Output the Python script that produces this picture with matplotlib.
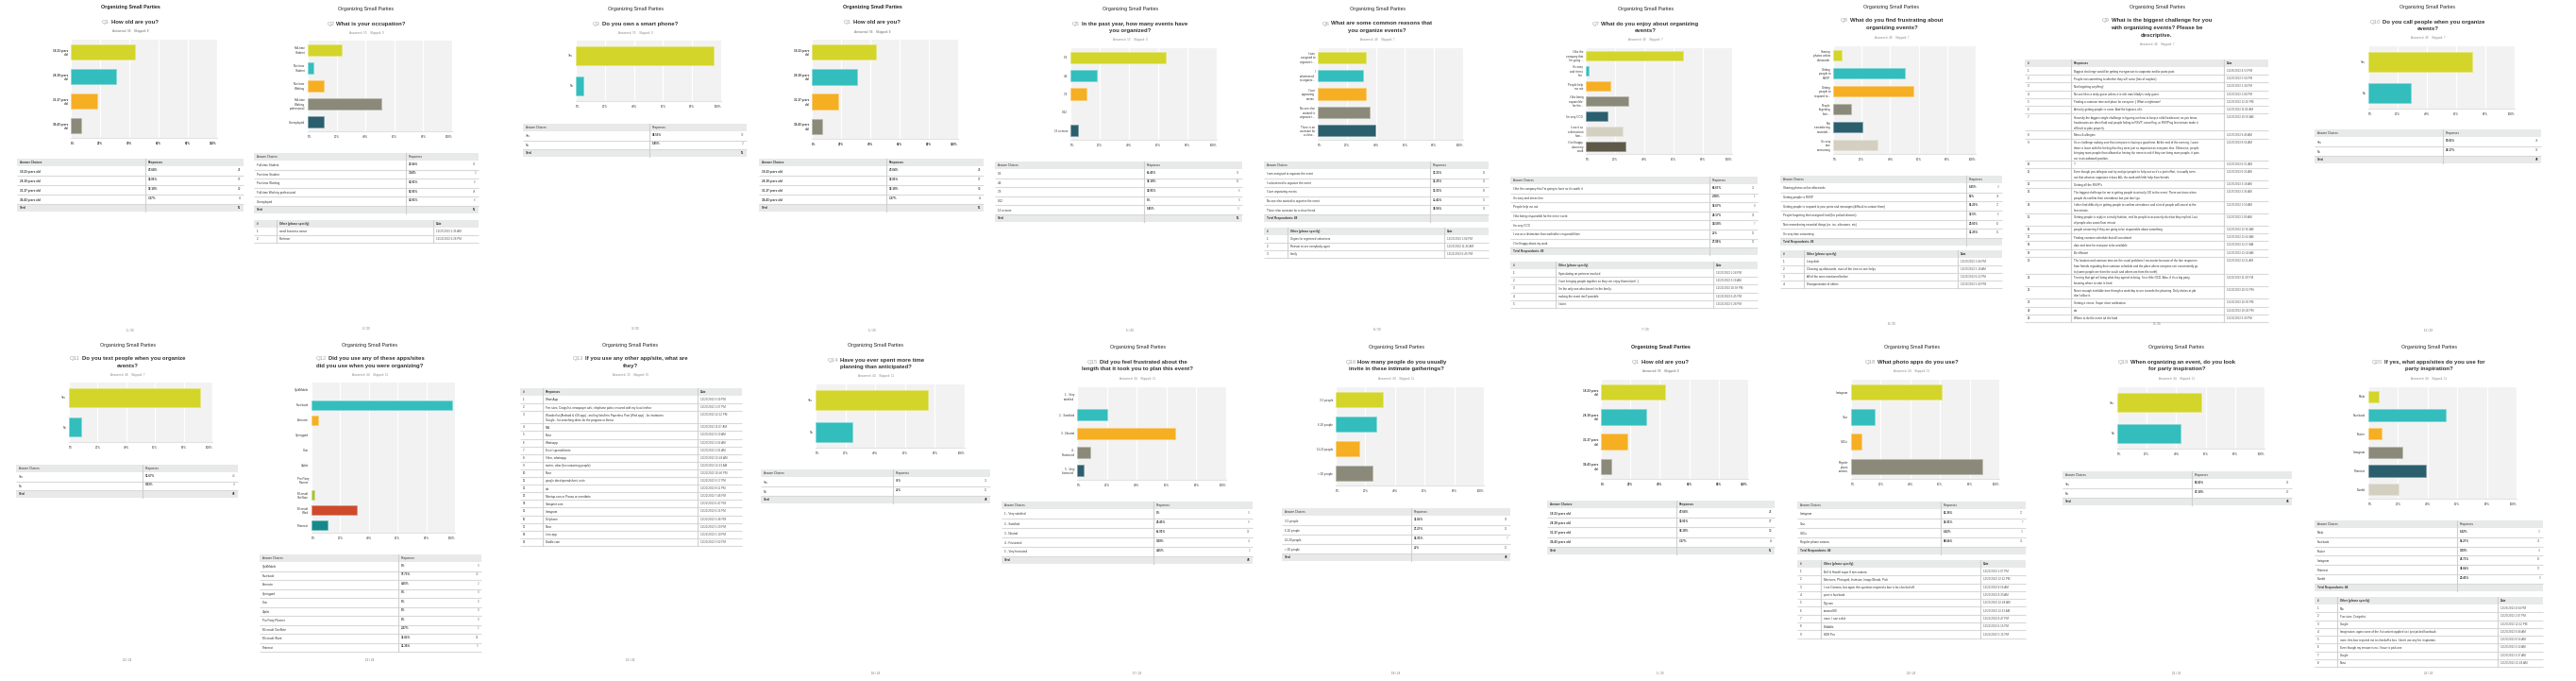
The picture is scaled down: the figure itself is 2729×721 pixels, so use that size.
import numpy as np
import matplotlib
matplotlib.use("Agg")
import matplotlib.pyplot as plt
from matplotlib.patches import Rectangle
from matplotlib.colors import to_rgb

plt.rcParams['font.family'] = ['Liberation Sans', 'DejaVu Sans']

W, H = 2729, 721

# ---------------- survey data ----------------
palette = ['#d3d52a', '#33bdbd', '#f6ae22', '#8b8a7a', '#2b5f6e', '#d3d0c2', '#5e5949']
q12_palette = palette + ['#a7c23b', '#cd4a2a', '#158a8b']

q1_title = ['How old are you?']
q1_bars = ['18-23 years\nold', '24-30 years\nold', '31-37 years\nold', '38-43 years\nold']
q1_choices = ['18-23 years old', '24-30 years old', '31-37 years old', '38-43 years old']
q1_pct = [43.64, 30.91, 18.18, 7.27]
q1_n = [24, 17, 10, 4]

q2_title = ['What is your occupation?']
q2_bars = ['Full-time\nStudent', 'Part-time\nStudent', 'Part-time\nWorking',
           'Full-time\nWorking\nprofessional', 'Unemployed']
q2_choices = ['Full-time Student', 'Part-time Student', 'Part-time Working',
              'Full-time Working professional', 'Unemployed']
q2_pct = [23.64, 3.64, 10.91, 50.91, 10.91]
q2_n = [13, 2, 6, 28, 6]
q2_other = [('1', 'small business owner', '12/23/2013 1:36 AM'),
            ('2', 'Parttimer', '12/22/2013 9:28 PM')]

q3_title = ['Do you own a smart phone?']
yes_no = ['Yes', 'No']
q3_pct = [94.55, 5.45]
q3_n = [52, 3]

q5_title = ['In the past year, how many events have', 'you organized?']
q5_bars = ['0-3', '4-6', '7-9', '9-12', '13 or more']
q5_pct = [65.45, 18.18, 10.91, 0, 5.45]
q5_n = [36, 10, 6, 0, 3]

q6_title = ['What are some common reasons that', 'you organize events?']
q6_bars = ['I was\nassigned to\norganize t...', 'I\nvolunteered\nto organiz...',
           'I love\norganizing\nevents', 'No one else\nwanted to\norganize t...',
           'There is an\noccasion for\na close...']
q6_choices = ['I was assigned to organize the event', 'I volunteered to organize the event',
              'I love organizing events', 'No one else wanted to organize the event',
              'There is/an occasion for a close friend']
q6_pct = [33.33, 31.25, 33.33, 35.42, 39.58]
q6_n = [16, 15, 16, 17, 19]
q6_other = [('1', 'Orgies for registered volunteers', '12/23/2013 1:04 PM'),
            ('2', 'Reason to see everybody again', '12/23/2013 11:36 AM'),
            ('3', 'family', '12/22/2013 6:45 PM')]

q7_title = ['What do you enjoy about organizing', 'events?']
q7_bars = ["I like the\ncompany that\nI'm going ...", "It's easy\nand stress\nfree",
           'People help\nme out', 'I like being\nresponsible\nfor the...', "I'm very OCD",
           'I use it as\na distraction\nfrom...', 'I feel happy\nabout my\nwork']
q7_choices = ["I like the company that I'm going to have so it's worth it",
              "It's easy and stress free", 'People help me out',
              'I like being responsible for the entire event', "I'm very OCD",
              'I use as a distraction from work/other responsibilities',
              'I feel happy about my work']
q7_pct = [66.67, 2.08, 16.67, 29.17, 14.58, 25, 27.08]
q7_n = [32, 1, 8, 14, 7, 12, 13]
q7_other = [('1', 'Speculating on partners involved', '12/23/2013 1:24 PM'),
            ('2', 'I love bringing people together so they can enjoy themselves! :)', '12/23/2013 3:19 AM'),
            ('3', "I'm the only one who doesn't in the family.", '12/22/2013 10:38 PM'),
            ('4', 'making the event itself possible', '12/22/2013 6:45 PM'),
            ('5', "I don't", '12/22/2013 5:28 PM')]

q8_title = ['What do you find frustrating about', 'organizing events?']
q8_bars = ['Sharing\nphotos online\nafterwards', 'Getting\npeople to\nRSVP',
           'Getting\npeople to\nrespond to...', 'People\nforgetting\ntheir...',
           'Not\nremembering\nessential...', "It's very\ntime\nconsuming"]
q8_choices = ['Sharing photos online afterwards', 'Getting people to RSVP',
              'Getting people to respond to your posts and messages (difficult to contact them)',
              'People forgetting their assigned food (for potluck dinners)',
              'Not remembering essential things (ex. ice, silverware, etc)',
              "It's very time consuming"]
q8_pct = [6.25, 50, 56.25, 12.5, 20.83, 31.25]
q8_n = [3, 24, 27, 6, 10, 15]
q8_other = [('1', 'Limp dish', '12/23/2013 1:04 PM'),
            ('2', 'Cleaning up afterwards, most of the time no one helps', '12/23/2013 5:18 AM'),
            ('3', 'All of the ones mentioned before', '12/22/2013 6:12 PM'),
            ('4', 'Disorganization of others', '12/22/2013 5:43 PM')]

q9_title = ['What is the biggest challenge for you', 'with organizing events? Please be', 'descriptive.']
q9_responses = [
    "Biggest challenge would be getting everyperson to cooperate and/or participate.",
    "People not committing to whether they will come (lots of maybes)",
    "Not forgetting anything!",
    "No one likes a tardy guest unless it is rich man's/lady's tardy guest",
    "Finding a common time and place for everyone :( What a nightmare!",
    "Actually getting people to come. And the logistics of it.",
    "Honestly the biggest single challenge is figuring out how to keep a solid headcount; as you know,\n"
    "headcounts are often fluid and people failing to RSVP, cancelling, or RSVPing last minute make it\n"
    "difficult to plan properly.",
    "Menu & allergies",
    "It's a challenge making sure that everyone is having a good time. At the end of the evening, I want\n"
    "them to leave with the feeling that they were just as important as everyone else. Otherwise, people\n"
    "bringing more people than allowed or having the nerve to ask if they can bring more people, it puts\n"
    "me in an awkward position.",
    "?",
    "Even though you delegate and try and get people to help out so it's a joint effort, it usually turns\n"
    "out that whoever organizes it does ALL the work with little help from friends",
    "Getting all the RSVP's",
    "The biggest challenge for me is getting people to actually GO to the event. There are times when\n"
    "people do confirm their attendance but just don't go.",
    "I often find difficulty in getting people to confirm attendance and a lot of people will cancel at the\n"
    "last minute.",
    "Getting people to reply in a timely fashion, and for people to accurately do what they replied. Lots\n"
    "of people also cancel last minute",
    "people answering if they are going to be responsible about something",
    "Finding common schedule that all can attend",
    "date and time for everyone to be available",
    "Be efficient",
    "The location and common time are the usual problems I encounter because of the late responses\n"
    "from friends regarding their common schedule and the place where everyone can conveniently go\n"
    "to (some people are from the south and others are from the north).",
    "Trusting that ppl will bring what they agreed to bring. I'm a little OCD. Also, if it's a big party,\n"
    "knowing where to start is hard.",
    "Never enough available time through a work day to use towards the planning. Daily duties at job\n"
    "don't allow it.",
    "Getting a venue. Super short notification.",
    "n/a",
    "Where to do the event nd the food",
]
q9_dates = ['12/26/2013 4:53 PM', '12/23/2013 5:56 PM', '12/23/2013 1:34 PM', '12/23/2013 1:04 PM',
            '12/23/2013 12:10 PM', '12/23/2013 11:06 AM', '12/23/2013 10:50 AM', '12/23/2013 9:49 AM',
            '12/23/2013 8:56 AM', '12/23/2013 6:55 AM', '12/23/2013 6:16 AM', '12/23/2013 3:18 AM',
            '12/23/2013 2:36 AM', '12/23/2013 1:59 AM', '12/23/2013 1:09 AM', '12/23/2013 12:56 AM',
            '12/23/2013 12:42 AM', '12/23/2013 12:27 AM', '12/23/2013 12:24 AM', '12/23/2013 12:11 AM',
            '12/22/2013 11:30 PM', '12/22/2013 10:51 PM', '12/22/2013 10:38 PM', '12/22/2013 10:04 PM',
            '12/22/2013 9:30 PM']

q10_title = ['Do you call people when you organize', 'events?']
q10_pct = [70.83, 29.17]
q10_n = [34, 14]

q11_title = ['Do you text people when you organize', 'events?']
q11_pct = [91.67, 8.33]
q11_n = [44, 4]

q12_title = ['Did you use any of these apps/sites', 'did you use when you were organizing?']
q12_bars = ['QuikMobile', 'Facebook', 'Evernote', 'Springpad', 'Cozi', 'Zipilst',
            'Pro Party\nPlanner', 'Microsoft\nOneNote', 'Microsoft\nWord', 'Pinterest']
q12_choices = ['QuikMobile', 'Facebook', 'Evernote', 'Springpad', 'Cozi', 'Zipilst',
               'Pro Party Planner', 'Microsoft OneNote', 'Microsoft Word', 'Pinterest']
q12_pct = [0, 97.73, 4.55, 0, 0, 0, 0, 2.27, 31.82, 11.36]
q12_n = [0, 43, 2, 0, 0, 0, 0, 1, 14, 5]

q13_title = ['If you use any other app/site, what are', 'they?']
q13_responses = ['WhatsApp',
                 'Fan sites, Craigslist, newspaper ads, telephone poles ensured with my local realtor',
                 'Wunderlist (Android & iOS app) - mailing lists/lists Paperless Post (iPad app) - for invitations\n'
                 'Google - for searching ideas for the program or theme',
                 'N/A', 'None', 'Whatsapp', 'Excel spreadsheets', 'Viber, whatsapp',
                 'twitter, viber (for contacting people)', 'None', 'google docs/spreadsheet, evite',
                 'n/a', 'Meetup.com or Picasa or eventbrite', 'Vistaprint.com', 'Instagram',
                 'Cellphone', 'None', 'Line app', 'Doodle.com']
q13_dates = ['12/23/2013 3:39 PM', '12/23/2013 1:07 PM', '12/23/2013 12:12 PM', '12/23/2013 11:07 AM',
             '12/23/2013 9:19 AM', '12/23/2013 2:02 AM', '12/23/2013 2:01 AM', '12/23/2013 12:44 AM',
             '12/23/2013 12:13 AM', '12/22/2013 10:40 PM', '12/22/2013 9:17 PM', '12/22/2013 8:11 PM',
             '12/22/2013 7:46 PM', '12/22/2013 6:47 PM', '12/22/2013 6:16 PM', '12/22/2013 5:46 PM',
             '12/22/2013 5:29 PM', '12/22/2013 5:10 PM', '12/22/2013 5:02 PM']

q14_title = ['Have you ever spent more time', 'planning than anticipated?']
q14_pct = [75, 25]
q14_n = [33, 11]

q15_title = ['Did you feel frustrated about the', 'length that it took you to plan this event?']
q15_bars = ['1 - Very\nsatisfied', '2 - Satisfied', '3 - Neutral', '4 -\nFrustrated', '5 - Very\nfrustrated']
q15_choices = ['1 - Very satisfied', '2 - Satisfied', '3 - Neutral', '4 - Frustrated', '5 - Very frustrated']
q15_pct = [0, 20.45, 65.91, 9.09, 4.55]
q15_n = [0, 9, 29, 4, 2]

q16_title = ['How many people do you usually', 'invite in these intimate gatherings?']
q16_bars = ['3-5 people', '6-10 people', '11-20 people', '> 20 people']
q16_choices = ['3-5 people', '6-10 people', '10-20 people', '> 20 people']
q16_pct = [31.82, 27.27, 15.91, 25]
q16_n = [14, 12, 7, 11]

q18_title = ['What photo apps do you use?']
q18_bars = ['Instagram', 'Vine', 'VSCo', 'Regular\nphone\ncamera']
q18_choices = ['Instagram', 'Vine', 'VSCo', 'Regular phone camera']
q18_pct = [61.36, 15.91, 6.82, 88.64]
q18_n = [27, 7, 3, 39]
q18_other = [('1', 'Bell & Howell super 8 mm camera', '12/23/2013 1:07 PM'),
             ('2', 'Mextures, Photogrid, Instasize, Image Blendr, Pixlr', '12/23/2013 12:12 PM'),
             ('3', 'I use Camera+ but again this question required a box to be checked off.', '12/23/2013 8:56 AM'),
             ('4', 'post to facebook', '12/23/2013 8:30 AM'),
             ('5', 'Digicam', '12/23/2013 12:44 AM'),
             ('6', 'camera360', '12/23/2013 12:13 AM'),
             ('7', 'none. I use a dslr', '12/22/2013 8:47 PM'),
             ('8', 'Dribbble', '12/22/2013 6:15 PM'),
             ('9', 'HDR Pro', '12/22/2013 5:15 PM')]

q19_title = ['When organizing an event, do you look', 'for party inspiration?']
q19_pct = [56.82, 43.18]
q19_n = [25, 19]

q20_title = ['If yes, what apps/sites do you use for', 'party inspiration?']
q20_bars = ['Flickr', 'Facebook', 'Twitter', 'Instagram', 'Pinterest', 'Tumblr']
q20_pct = [6.82, 52.27, 9.09, 22.73, 38.64, 20.45]
q20_n = [3, 23, 4, 10, 17, 9]
q20_other = [('1', 'N/a', '12/26/2013 4:04 PM'),
             ('2', 'Fun sites, Craigslist.', '12/23/2013 1:07 PM'),
             ('3', 'Google', '12/23/2013 12:12 PM'),
             ('4', 'Imagination. again none of the list content applied so i just picked facebook', '12/23/2013 9:04 AM'),
             ('5', "none. this box required me to checkoff a box. I don't use any for inspiration.", '12/23/2013 8:56 AM'),
             ('6', 'Even though my answer is no, I have to pick one', '12/23/2013 3:19 AM'),
             ('7', 'Google', '12/23/2013 3:37 AM'),
             ('8', 'None', '12/23/2013 12:44 AM')]

answered = {1: (55, 0), 2: (55, 0), 3: (55, 0), 5: (55, 0), 6: (48, 7), 7: (48, 7), 8: (48, 7),
            9: (48, 7), 10: (48, 7), 11: (48, 7), 12: (44, 11), 13: (19, 36), 14: (44, 11),
            15: (44, 11), 16: (44, 11), 18: (44, 11), 19: (44, 11), 20: (44, 11)}

OTHER = 'Other (please specify)'
survey = {
    1: dict(title=q1_title, bars=q1_bars, choices=q1_choices, pct=q1_pct, n=q1_n, total=sum(q1_n)),
    2: dict(title=q2_title, bars=q2_bars, choices=q2_choices, pct=q2_pct, n=q2_n, total=sum(q2_n),
            other=(OTHER, q2_other)),
    3: dict(title=q3_title, bars=yes_no, choices=yes_no, pct=q3_pct, n=q3_n, total=sum(q3_n)),
    5: dict(title=q5_title, bars=q5_bars, choices=q5_bars, pct=q5_pct, n=q5_n, total=sum(q5_n)),
    6: dict(title=q6_title, bars=q6_bars, choices=q6_choices, pct=q6_pct, n=q6_n,
            total='Total Respondents: 48', other=(OTHER, q6_other)),
    7: dict(title=q7_title, bars=q7_bars, choices=q7_choices, pct=q7_pct, n=q7_n,
            total='Total Respondents: 48', other=(OTHER, q7_other)),
    8: dict(title=q8_title, bars=q8_bars, choices=q8_choices, pct=q8_pct, n=q8_n,
            total='Total Respondents: 48', other=(OTHER, q8_other)),
    9: dict(title=q9_title, other=('Responses', [(str(i + 1), r, d) for i, (r, d)
                                                 in enumerate(zip(q9_responses, q9_dates))])),
    10: dict(title=q10_title, bars=yes_no, choices=yes_no, pct=q10_pct, n=q10_n, total=sum(q10_n)),
    11: dict(title=q11_title, bars=yes_no, choices=yes_no, pct=q11_pct, n=q11_n, total=sum(q11_n)),
    12: dict(title=q12_title, bars=q12_bars, choices=q12_choices, pct=q12_pct, n=q12_n, total=None,
             colors=q12_palette),
    13: dict(title=q13_title, other=('Responses', [(str(i + 1), r, d) for i, (r, d)
                                                  in enumerate(zip(q13_responses, q13_dates))])),
    14: dict(title=q14_title, bars=yes_no, choices=yes_no, pct=q14_pct, n=q14_n, total=sum(q14_n)),
    15: dict(title=q15_title, bars=q15_bars, choices=q15_choices, pct=q15_pct, n=q15_n, total=sum(q15_n)),
    16: dict(title=q16_title, bars=q16_bars, choices=q16_choices, pct=q16_pct, n=q16_n, total=sum(q16_n)),
    18: dict(title=q18_title, bars=q18_bars, choices=q18_choices, pct=q18_pct, n=q18_n,
             total='Total Respondents: 44', other=(OTHER, q18_other)),
    19: dict(title=q19_title, bars=yes_no, choices=yes_no, pct=q19_pct, n=q19_n, total=sum(q19_n)),
    20: dict(title=q20_title, bars=q20_bars, choices=q20_bars, pct=q20_pct, n=q20_n,
             total='Total Respondents: 44', other=(OTHER, q20_other)),
}

# page layout (pixels): header, chart box, answer table, other table, footer
pages = [
    dict(q=1, cx=138, ty=8, qy=23, ay=33, bold=True, chart=(75, 230, 42, 146),
         tab=(18, 258, 154, 168, 10.0), foot=(350, '1 / 23')),
    dict(q=2, cx=388, ty=10, qy=25, ay=35, chart=(326, 479, 43, 139),
         tab=(269, 507, 430, 162, 9.6), oth=((269, 293, 459), 507, 233, 8.0), foot=(348, '2 / 23')),
    dict(q=3, cx=673, ty=10, qy=25, ay=35, chart=(610, 764, 43, 107),
         tab=(554, 791, 688, 131, 9.5), foot=(348, '3 / 23')),
    dict(q=1, cx=924, ty=8, qy=24, ay=34, bold=True, chart=(860, 1015, 42, 147),
         tab=(804, 1042, 939, 168, 10.0), foot=(350, '1 / 23')),
    dict(q=5, cx=1197, ty=10, qy=25, ay=42, chart=(1134, 1289, 51, 148),
         tab=(1054, 1316, 1212, 171, 9.6), foot=(350, '5 / 23')),
    dict(q=6, cx=1459, ty=10, qy=25, ay=42, chart=(1396, 1550, 51, 148),
         tab=(1339, 1577, 1515, 171, 9.6), oth=((1339, 1364, 1530), 1577, 241, 8.0), foot=(349, '6 / 23')),
    dict(q=7, cx=1743, ty=10, qy=25, ay=42, chart=(1680, 1835, 51, 163),
         tab=(1600, 1862, 1811, 187, 9.6), oth=((1600, 1648, 1815), 1862, 277, 8.2), foot=(349, '7 / 23')),
    dict(q=8, cx=2004, ty=8, qy=22, ay=40, chart=(1942, 2093, 49, 163),
         tab=(1886, 2121, 2083, 186, 9.7), oth=((1886, 1911, 2074), 2121, 265, 8.0), foot=(343, '8 / 23')),
    dict(q=9, cx=2285, ty=8, qy=22, ay=47,
         oth=((2145, 2194, 2356), 2403, 63, 8.2), foot=(343, '9 / 23')),
    dict(q=10, cx=2572, ty=8, qy=23, ay=40, chart=(2509, 2664, 49, 115),
         tab=(2452, 2692, 2588, 137, 10.0), foot=(350, '11 / 23')),
    dict(q=11, cx=135, ty=365, qy=380, ay=397, chart=(73, 225, 405, 468),
         tab=(17, 252, 151, 492, 9.5), foot=(699, '12 / 23')),
    dict(q=12, cx=392, ty=365, qy=380, ay=397, chart=(330, 482, 405, 564),
         tab=(275, 510, 422, 587, 9.5), foot=(699, '13 / 23')),
    dict(q=13, cx=668, ty=365, qy=380, ay=397,
         oth=((551, 575, 739), 786, 411, 8.1), foot=(699, '15 / 23')),
    dict(q=14, cx=928, ty=365, qy=381, ay=398, chart=(864, 1022, 407, 474),
         tab=(806, 1049, 946, 497, 10.0), foot=(713, '16 / 23')),
    dict(q=15, cx=1205, ty=368, qy=383, ay=401, chart=(1141, 1299, 410, 508),
         tab=(1061, 1327, 1222, 531, 10.0), foot=(713, '17 / 23')),
    dict(q=16, cx=1479, ty=368, qy=383, ay=401, chart=(1415, 1572, 410, 514),
         tab=(1358, 1600, 1495, 538, 10.0), foot=(713, '18 / 23')),
    dict(q=1, cx=1759, ty=368, qy=383, ay=393, bold=True, chart=(1696, 1852, 402, 507),
         tab=(1639, 1880, 1776, 530, 10.2), foot=(713, '1 / 23')),
    dict(q=18, cx=2025, ty=368, qy=383, ay=393, chart=(1961, 2118, 402, 507),
         tab=(1904, 2146, 2056, 531, 10.0), oth=((1904, 1929, 2098), 2146, 593, 8.3), foot=(713, '20 / 23')),
    dict(q=19, cx=2306, ty=368, qy=383, ay=401, chart=(2243, 2399, 410, 475),
         tab=(2185, 2428, 2322, 499, 10.0), foot=(713, '21 / 23')),
    dict(q=20, cx=2573, ty=368, qy=383, ay=401, chart=(2509, 2666, 410, 528),
         tab=(2452, 2694, 2603, 551, 9.8), oth=((2452, 2476, 2646), 2694, 632, 8.25), foot=(713, '22 / 23')),
]

FS_T, FS_Q, FS_S = 3.8, 4.3, 2.2
DARK, QGREY, LINE, HEAD = '#333333', '#a8a8a8', '#d9d9d9', '#e8e9e9'

fig = plt.figure(figsize=(W / 100, H / 100), dpi=100)
fig.patch.set_facecolor('white')
bg = fig.add_axes([0, 0, 1, 1])
bg.set_xlim(0, W)
bg.set_ylim(H, 0)
bg.axis('off')
rend = fig.canvas.get_renderer()


def fmt_pct(p):
    s = f'{p:.2f}'.rstrip('0').rstrip('.')
    return s + '%'


def text_width(s, size, weight):
    t = bg.text(0, 0, s, fontsize=size, fontweight=weight)
    w = t.get_window_extent(rend).width
    t.remove()
    return w


def page_head(p, d):
    fw = 'bold' if p.get('bold') else 'normal'
    cx = p['cx']
    bg.text(cx, p['ty'], 'Organizing Small Parties', ha='center', va='center',
            fontsize=FS_T, color='#222222', fontweight=fw)
    qnum = f"Q{p['q']}"
    for i, line in enumerate(d['title']):
        y = p['qy'] + i * 7.5
        if i == 0:
            wn = text_width(qnum, FS_Q, 'normal') + 1.8
            wl = text_width(line, FS_Q, 'bold')
            x0 = cx - (wn + wl) / 2
            bg.text(x0, y, qnum, ha='left', va='center', fontsize=FS_Q, color=QGREY)
            bg.text(x0 + wn, y, line, ha='left', va='center', fontsize=FS_Q,
                    color=DARK, fontweight='bold')
        else:
            bg.text(cx, y, line, ha='center', va='center', fontsize=FS_Q,
                    color=DARK, fontweight='bold')
    a, s = answered[p['q']]
    bg.text(cx, p['ay'], f'Answered: {a}    Skipped: {s}', ha='center', va='center',
            fontsize=FS_S, color='#8c8c8c', fontweight=fw)


def bar_chart(box, labels, pcts, colors, bold):
    x0, x1, y0, y1 = box
    ax = fig.add_axes([x0 / W, 1 - y1 / H, (x1 - x0) / W, (y1 - y0) / H])
    ax.set_facecolor('#f2f2f2')
    n = len(pcts)
    cols = colors[:n]
    edges = [tuple(0.6 * c + 0.4 for c in to_rgb(col)) for col in cols]
    lws = [0.5 if v > 0 else 0 for v in pcts]
    ax.barh(np.arange(n), pcts, height=0.62, color=cols, edgecolor=edges, linewidth=lws, zorder=3)
    ax.set_xlim(0, 100)
    ax.set_ylim(n - 0.5, -0.5)
    ticks = list(range(0, 101, 20))
    ax.set_xticks(ticks)
    ax.set_xticklabels([f'{t}%' for t in ticks])
    ax.set_yticks(np.arange(n))
    ax.set_yticklabels(labels)
    ax.grid(axis='x', color='white', lw=0.9, zorder=0)
    ax.grid(axis='y', visible=False)
    for s in ax.spines.values():
        s.set_visible(False)
    ax.spines['bottom'].set_visible(True)
    ax.spines['bottom'].set_color('#e2e2e2')
    ax.spines['bottom'].set_linewidth(0.8)
    fw = 'bold' if bold else 'normal'
    ax.tick_params(axis='x', length=0, labelsize=FS_S, labelcolor=DARK, pad=3.2)
    ax.tick_params(axis='y', length=0, labelsize=FS_S, labelcolor=DARK, pad=2)
    for t in ax.get_yticklabels():
        t.set_fontweight(fw)
        t.set_linespacing(1.15)
        t.set_multialignment('right')
    xl = ax.get_xticklabels()
    for t in xl:
        t.set_fontweight(fw)
    xl[0].set_ha('left')
    xl[-1].set_ha('right')


def hline(x0, x1, y):
    bg.plot([x0, x1], [y, y], color=LINE, lw=0.8, solid_capstyle='butt')


def choice_table(tab, names, pcts, counts, total, bold):
    x0, x1, split, y, rh = tab
    fw = 'bold' if bold else 'normal'
    hh = 8
    bg.add_patch(Rectangle((x0, y), x1 - x0, hh, facecolor=HEAD, lw=0))
    kw = dict(va='center', fontsize=FS_S, color=DARK)
    bg.text(x0 + 3, y + hh / 2, 'Answer Choices', fontweight='bold' if bold else 'normal', **kw)
    bg.text(split + 3, y + hh / 2, 'Responses', fontweight='bold' if bold else 'normal', **kw)
    yy = y + hh
    for name, pv, c in zip(names, pcts, counts):
        bg.text(x0 + 3, yy + rh * 0.55, name, fontweight=fw, **kw)
        bg.text(split + 3, yy + rh * 0.4, fmt_pct(pv), fontweight='bold', **kw)
        bg.text(x1 - 3, yy + rh * 0.4, str(c), ha='right', va='center', fontsize=FS_S,
                color='#777777', fontweight=fw)
        yy += rh
        hline(x0, x1, yy)
    if total is not None:
        bg.add_patch(Rectangle((x0, yy), x1 - x0, hh, facecolor=HEAD, lw=0))
        if isinstance(total, str):
            bg.text(x0 + 3, yy + hh / 2, total, fontweight='bold', **kw)
        else:
            bg.text(x0 + 3, yy + hh / 2, 'Total', fontweight='bold', **kw)
            bg.text(x1 - 3, yy + hh / 2, str(total), ha='right', va='center',
                    fontsize=FS_S, color=DARK, fontweight='bold')
        yy += hh
    bg.plot([split, split], [y, yy], color='#d0d0d0', lw=0.8)


def other_table(oth, head, rows):
    (x0, xc, xd), x1, y, base = oth
    hh = 8
    extra = 5.0
    bg.add_patch(Rectangle((x0, y), x1 - x0, hh, facecolor=HEAD, lw=0))
    kw = dict(fontsize=FS_S, color=DARK)
    bg.text(x0 + 3, y + hh / 2, '#', va='center', fontweight='bold', **kw)
    bg.text(xc + 3, y + hh / 2, head, va='center', fontweight='bold', **kw)
    bg.text(xd + 3, y + hh / 2, 'Date', va='center', fontweight='bold', **kw)
    yy = y + hh
    for num, txt, date in rows:
        nl = txt.count('\n') + 1
        h = base + (nl - 1) * extra
        bg.text(x0 + 3, yy + base / 2, num, va='center', **kw)
        bg.text(xc + 3, yy + base / 2 - 1.6, txt, va='top', linespacing=1.55, **kw)
        bg.text(xd + 3, yy + base / 2, date, va='center', fontsize=FS_S, color='#555555')
        yy += h
        hline(x0, x1, yy)
    bg.plot([xc, xc], [y, yy], color='#d0d0d0', lw=0.8)
    bg.plot([xd, xd], [y, yy], color='#d0d0d0', lw=0.8)


for p in pages:
    d = survey[p['q']]
    bold = p.get('bold', False)
    page_head(p, d)
    if 'chart' in p:
        bar_chart(p['chart'], d['bars'], d['pct'], d.get('colors', palette), bold)
    if 'tab' in p:
        choice_table(p['tab'], d['choices'], d['pct'], d['n'], d['total'], bold)
    if 'oth' in p:
        head, rows = d['other']
        other_table(p['oth'], head, rows)
    fy, ftxt = p['foot']
    bg.text(p['cx'], fy, ftxt, ha='center', va='center', fontsize=FS_S, color='#666666')

fig.savefig('out.png', dpi=100, facecolor='white')
